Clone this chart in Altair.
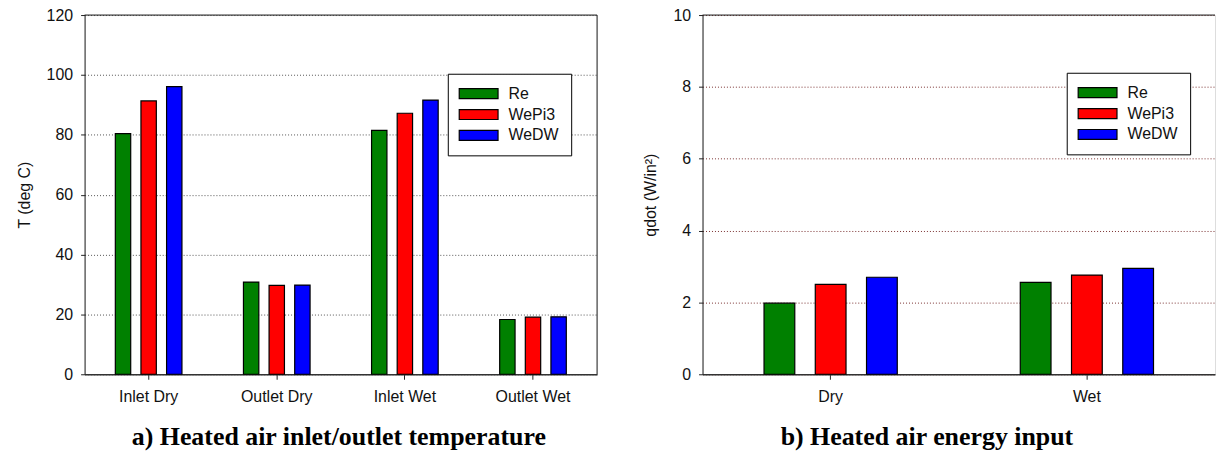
import altair as alt
import pandas as pd

series = ["Re", "WePi3", "WeDW"]
colors = ["#008000", "#ff0000", "#0000ff"]

temp_cats = ["Inlet Dry", "Outlet Dry", "Inlet Wet", "Outlet Wet"]
temp_re = [80.4, 30.8, 81.5, 18.3]
temp_wepi3 = [91.3, 29.7, 87.2, 19.1]
temp_wedw = [96.1, 29.8, 91.6, 19.2]
temp_ticks = [0, 20, 40, 60, 80, 100, 120]

q_cats = ["Dry", "Wet"]
q_re = [1.98, 2.56]
q_wepi3 = [2.50, 2.76]
q_wedw = [2.70, 2.95]
q_ticks = [0, 2, 4, 6, 8, 10]


def make_df(cats, a, b, c):
    rows = []
    for i, cat in enumerate(cats):
        for s, vals in zip(series, [a, b, c]):
            rows.append({"cat": cat, "series": s, "value": vals[i]})
    return pd.DataFrame(rows)


temp_df = make_df(temp_cats, temp_re, temp_wepi3, temp_wedw)
q_df = make_df(q_cats, q_re, q_wepi3, q_wedw)

W = 515
H = 361
SANS = "Liberation Sans"


def panel(df, cats, ticks, ytitle, title, grid_color, dx, frame, lx, ly):
    legend = alt.Legend(
        title=None, orient="none", legendX=lx, legendY=ly, direction="vertical",
        symbolType="M-3.9,-1L3.9,-1L3.9,1L-3.9,1Z", symbolSize=100,
        symbolStrokeColor="black", symbolStrokeWidth=1.2, symbolOpacity=1,
        symbolOffset=11,
        labelFont=SANS, labelFontSize=16, labelColor="#111", labelOffset=22,
        labelAlign="left",
        rowPadding=5, padding=12, strokeColor="black", fillColor="white",
    )
    bars = alt.Chart(df).mark_bar(stroke="black", strokeWidth=1.2).encode(
        x=alt.X("cat:N", sort=cats,
                scale=alt.Scale(paddingInner=0.48, paddingOuter=0.24),
                axis=alt.Axis(title=None, labelAngle=0, tickSize=5, tickColor="#222",
                              labelPadding=9, domainColor="#333", domainWidth=1.6,
                              labelFont=SANS, labelFontSize=16, labelColor="#111",
                              grid=False)),
        xOffset=alt.XOffset("series:N", sort=series,
                            scale=alt.Scale(paddingInner=0.4, paddingOuter=0)),
        y=alt.Y("value:Q", scale=alt.Scale(domain=[ticks[0], ticks[-1]], nice=False),
                axis=alt.Axis(values=ticks, title=ytitle, grid=True, gridDash=[1, 2],
                              gridColor=grid_color, gridWidth=1, tickSize=4,
                              tickColor="#222", domainColor="#222", labelPadding=8,
                              labelFont=SANS, labelFontSize=16, labelColor="#111",
                              titleFont=SANS, titleFontSize=16, titleFontWeight="normal",
                              titleColor="#111", titlePadding=14)),
        color=alt.Color("series:N", sort=series,
                        scale=alt.Scale(domain=series, range=colors), legend=legend),
    )
    top = alt.Chart(pd.DataFrame({"k": [0]})).mark_rule(color="#222", strokeWidth=1).encode(
        x=alt.value(0), x2=alt.value(W), y=alt.value(0))
    layers = [bars, top]
    if frame:
        right = alt.Chart(pd.DataFrame({"k": [0]})).mark_rule(color="#222", strokeWidth=1).encode(
            x=alt.value(W), y=alt.value(0), y2=alt.value(H))
        layers.append(right)
    return alt.layer(*layers).properties(
        width=W, height=H,
        title=alt.TitleParams(title, orient="bottom", anchor="middle", frame="group",
                              font="Liberation Serif", fontSize=26, fontWeight="bold",
                              color="black", offset=20, dx=dx),
    )


left = panel(temp_df, temp_cats, temp_ticks, "T (deg C)",
             "a) Heated air inlet/outlet temperature", "#555555", -2, True, 365, 59)
right = panel(q_df, q_cats, q_ticks, "qdot (W/in²)",
              "b) Heated air energy input", "#7a3030", -32, False, 366, 58)

chart = alt.hconcat(left, right, spacing=44).resolve_scale(
    color="independent", xOffset="independent"
).resolve_legend(color="independent").properties(
    padding={"left": 15, "top": 5, "right": 0, "bottom": 0}
).configure_view(stroke=None).configure(background="white")

chart.save("out.html", embed_options={"renderer": "svg", "actions": False})
